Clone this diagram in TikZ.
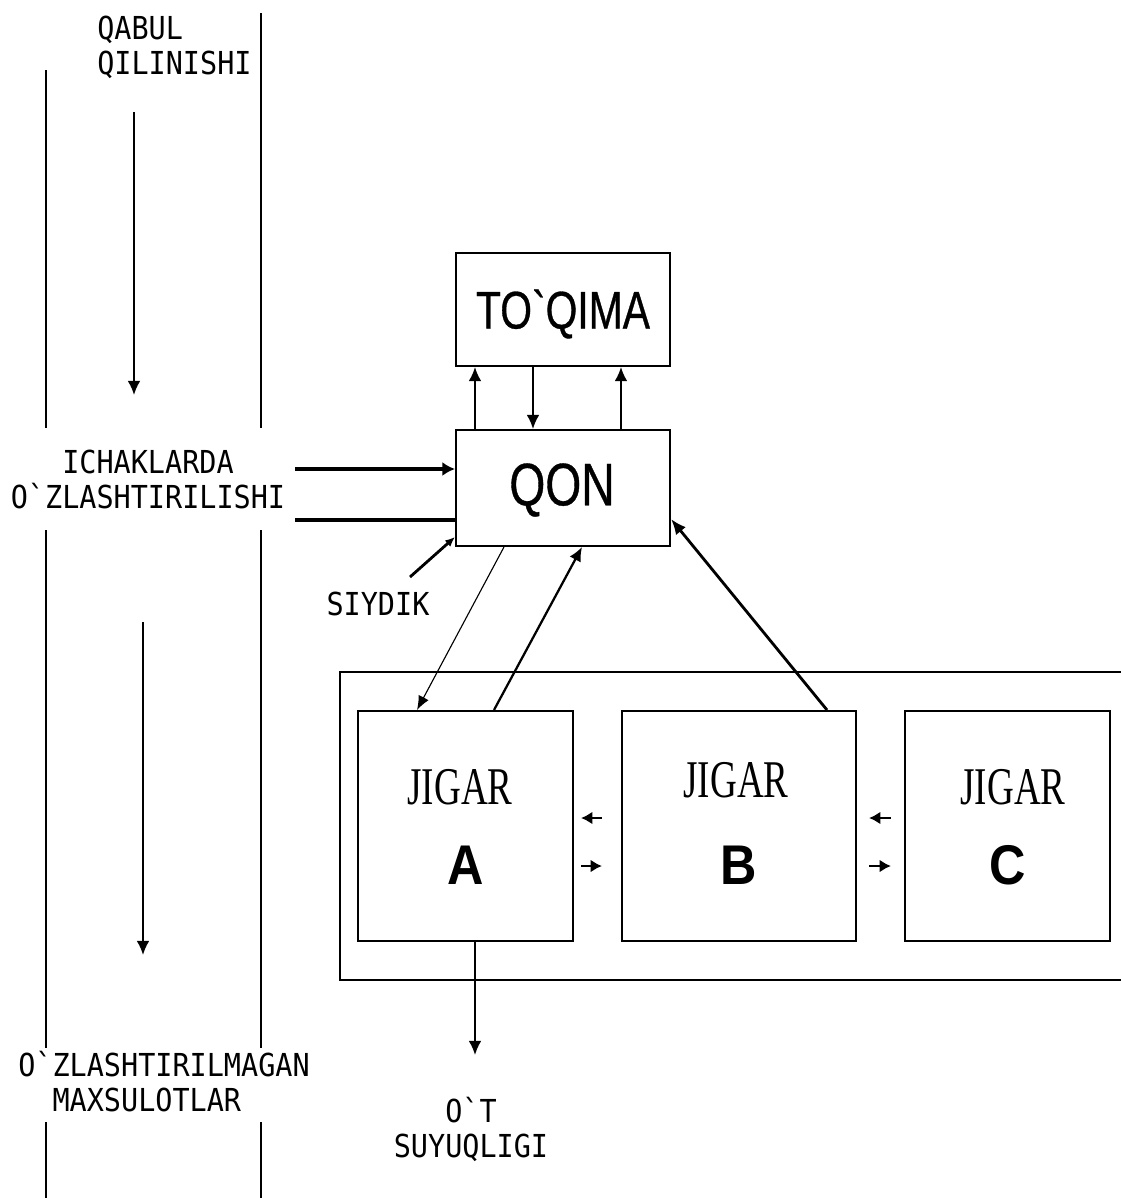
\documentclass[tikz,border=0pt]{standalone}
\usepackage{fontspec}
\usetikzlibrary{arrows.meta,calc}
\newfontfamily\monof[FakeStretch=0.9]{DejaVu Sans Mono}
\newfontfamily\arialc[FakeStretch=0.77,FakeBold=0.6]{Liberation Sans}
\newfontfamily\arialb[FakeStretch=0.9]{Liberation Sans}
\newfontfamily\timesc[FakeStretch=0.7]{Liberation Serif}
\begin{document}
\begin{tikzpicture}[x=0.025cm,y=-0.025cm,
  box/.style={draw,line width=1.4pt,inner sep=0pt,rectangle},
  mono/.style={inner sep=0pt,font=\monof\fontsize{22.5}{24.9}\selectfont},
  rail/.style={line width=1.4pt},
  arr/.style={line width=1.3pt,-{Latex[length=10pt,width=9pt]}},
  thinarr/.style={line width=0.8pt,-{Latex[length=10pt,width=8pt]}},
  fat/.style={line width=3.2pt},
  shortarr/.style={line width=1.5pt,-{Latex[length=8pt,width=9pt]}},
  jig/.style={inner sep=0pt,font=\timesc\fontsize{37.7}{40}\selectfont},
  let/.style={inner sep=0pt,font=\arialb\bfseries\fontsize{39.8}{42}\selectfont}]
\useasboundingbox (0,0) rectangle (1120,1198);
\fill[white] (0,0) rectangle (1120,1198);
% left rails
\draw[rail] (46,70) -- (46,428);
\draw[rail] (261,13) -- (261,428);
\draw[rail] (46,530) -- (46,1048);
\draw[rail] (261,530) -- (261,1048);
\draw[rail] (46,1122) -- (46,1198);
\draw[rail] (261,1122) -- (261,1198);
% left texts
\node[mono,anchor=north west,align=left] (qabul) at (97,16) {QABUL\\QILINISHI};
\node[mono,anchor=north,align=center] (ichak) at (148,450) {ICHAKLARDA\\O`ZLASHTIRILISHI};
\node[mono,anchor=north west,align=left] (ozl) at (18,1051) {O`ZLASHTIRILMAGAN\\\phantom{MA}MAXSULOTLAR};
\node[mono,anchor=north,align=center] (ot) at (471,1097) {O`T\\SUYUQLIGI};
\node[mono,anchor=north] (siydik) at (378,592) {SIYDIK};
% left vertical arrows
\coordinate (v1a) at (134,112); \coordinate (v1b) at (134,395);
\coordinate (v2a) at (143,622); \coordinate (v2b) at (143,955);
\draw[arr] (v1a) -- (v1b);
\draw[arr] (v2a) -- (v2b);
% boxes
\node[box,minimum width=5.35cm,minimum height=2.825cm] (toq) at (563,309.5) {};
\node[inner sep=0pt,font=\arialc\fontsize{37.7}{40}\selectfont] (toqt) at (563,314) {TO`QIMA};
\node[box,minimum width=5.35cm,minimum height=2.9cm] (qon) at (563,488) {};
\node[inner sep=0pt,font=\arialc\fontsize{42.7}{45}\selectfont] (qont) at (562,490) {QON};
% outer frame
\draw[line width=1.4pt] (1125,672) -- (340,672) -- (340,980) -- (1125,980);
\node[box,minimum width=5.375cm,minimum height=5.75cm] (A) at (465.5,826) {};
\node[box,minimum width=5.85cm,minimum height=5.75cm] (B) at (739,826) {};
\node[box,minimum width=5.125cm,minimum height=5.75cm] (C) at (1007.5,826) {};
\node[jig] (ja) at ($(A.center)+(-5.5,-39)$) {JIGAR};
\node[jig] (jb) at ($(B.center)+(-3,-46)$) {JIGAR};
\node[jig] (jc) at ($(C.center)+(5.5,-39)$) {JIGAR};
\node[let] (la) at ($(A.center)+(0,39)$) {A};
\node[let] (lb) at ($(B.center)+(0,39)$) {B};
\node[let] (lc) at ($(C.center)+(0,39)$) {C};
% toqima <-> qon
\draw[arr] ($(qon.north west)+(20,0)$) -- ($(toq.south west)+(20,0)$);
\draw[arr] ($(toq.south west)+(78,0)$) -- ($(qon.north west)+(78,0)$);
\draw[arr] ($(qon.north west)+(166,0)$) -- ($(toq.south west)+(166,0)$);
% inputs into qon
\coordinate (i1) at (295,469);
\coordinate (i2) at (295,520);
\draw[fat,-{Latex[length=9pt,width=10pt]}] (i1) -- (i1 -| qon.west);
\draw[fat] (i2) -- (i2 -| qon.west);
% siydik
\coordinate (s1) at (410,577);
\draw[line width=2pt,-{Latex[length=7pt,width=6pt]}] (s1) -- ($(qon.south west)+(0,-10)$);
% qon <-> jigar
\draw[thinarr] ($(qon.south west)+(49,0)$) -- ($(A.north west)+(60,0)$);
\draw[line width=1.6pt,-{Latex[length=10pt,width=9pt]}] ($(A.north west)+(137,0)$) -- ($(qon.south west)+(127,0)$);
\draw[line width=2pt,-{Latex[length=11pt,width=9pt]}] ($(B.north west)+(206,0)$) -- ($(qon.south east)+(0,-28)$);
% between jigar boxes
\coordinate (ya) at (0,818);
\coordinate (yb) at (0,866);
\draw[shortarr,shorten <=0.475cm,shorten >=0.175cm] (B.west |- ya) -- (A.east |- ya);
\draw[shortarr,shorten <=0.175cm,shorten >=0.475cm] (A.east |- yb) -- (B.west |- yb);
\draw[shortarr,shorten <=0.325cm,shorten >=0.3cm] (C.west |- ya) -- (B.east |- ya);
\draw[shortarr,shorten <=0.3cm,shorten >=0.325cm] (B.east |- yb) -- (C.west |- yb);
% jigar A -> bile
\coordinate (ob) at (475,1055);
\draw[arr] (A.south -| ob) -- (ob);
\end{tikzpicture}
\end{document}
